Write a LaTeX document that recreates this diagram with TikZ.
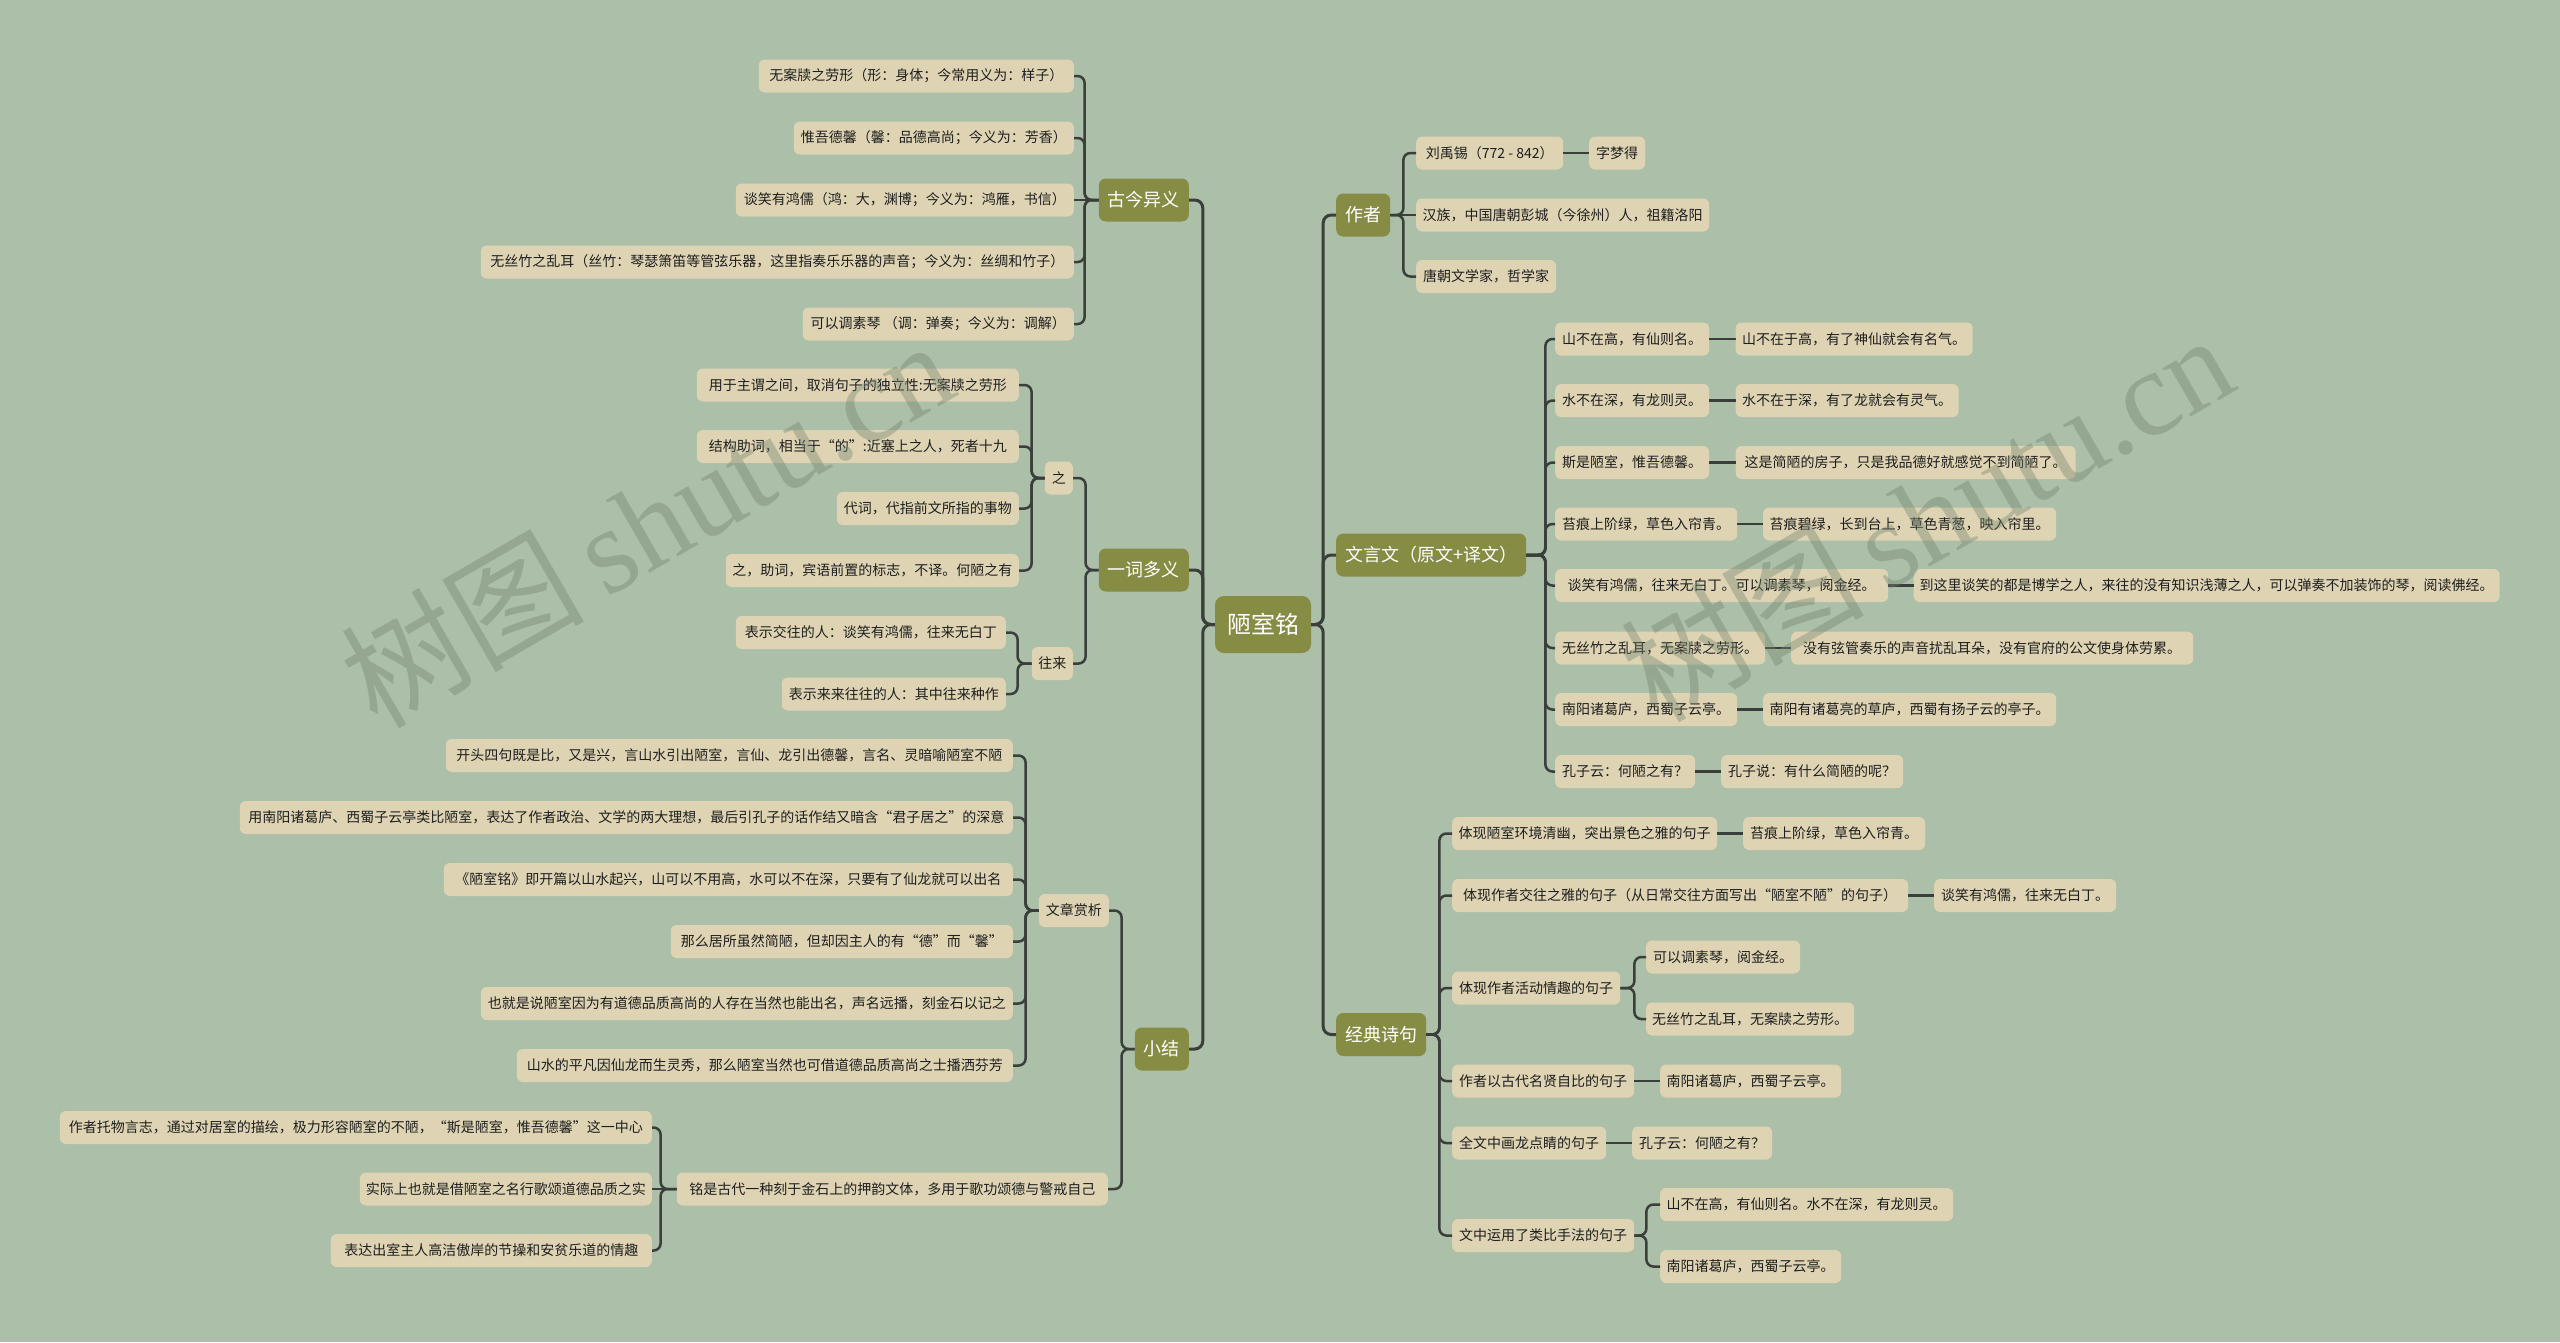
\documentclass[tikz,border=0pt]{standalone}
\usepackage{fontspec}
\setmainfont{Noto Sans CJK SC}
\newfontfamily\wmlatin{Liberation Serif}
\definecolor{bgc}{HTML}{ABBFA9}
\definecolor{leafc}{HTML}{DED4B4}
\definecolor{topc}{HTML}{878C45}
\definecolor{linec}{HTML}{3A3F3B}
\definecolor{txtc}{HTML}{1E1E1E}
\definecolor{wmc}{HTML}{74846F}
\tikzset{
 leaf/.style={fill=leafc, rounded corners=6pt, inner xsep=6pt, inner ysep=0pt, minimum height=33pt, text=txtc, font=\fontsize{14}{16}\selectfont},
 lw/.style={leaf, minimum width=#1},
 topic/.style={fill=topc, rounded corners=7pt, inner xsep=9pt, inner ysep=0pt, minimum height=43pt, text=white, font=\fontsize{18}{20}\selectfont},
 rootn/.style={fill=topc, rounded corners=9pt, inner xsep=12pt, inner ysep=0pt, minimum height=57pt, minimum width=96pt, text=white, font=\fontsize{24}{26}\selectfont},
 link/.style={draw=linec, line width=2.5pt, rounded corners=7pt},
 rlink/.style={draw=linec, line width=3pt, rounded corners=8pt},
 wm/.style={text=wmc, opacity=0.4, rotate=30, inner sep=0pt}
}
\begin{document}
\begin{tikzpicture}[x=1pt,y=-1pt]
\fill[bgc] (0,0) rectangle (2560,1342);
\useasboundingbox (0,0) rectangle (2560,1342);

% root
\node[rootn] (root) at (1263,624.5) {陋室铭};

% left topics
\node[topic, anchor=east] (gj) at (1189,200) {古今异义};
\node[topic, anchor=east] (yc) at (1189,570) {一词多义};
\node[topic, anchor=east] (xj) at (1189,1049) {小结};

% right topics
\node[topic, anchor=west] (zz) at (1336,215) {作者};
\node[topic, anchor=west] (wy) at (1336,555) {文言文（原文+译文）};
\node[topic, anchor=west] (jd) at (1336,1034.5) {经典诗句};

% 古今异义
\node[lw=315pt, anchor=east] (g1) at (1074,76) {无案牍之劳形（形：身体；今常用义为：样子）};
\node[lw=280pt, anchor=east] (g2) at (1074,138) {惟吾德馨（馨：品德高尚；今义为：芳香）};
\node[lw=338pt, anchor=east] (g3) at (1074,200) {谈笑有鸿儒（鸿：大，渊博；今义为：鸿雁，书信）};
\node[lw=593pt, anchor=east] (g4) at (1074,262) {无丝竹之乱耳（丝竹：琴瑟箫笛等管弦乐器，这里指奏乐乐器的声音；今义为：丝绸和竹子）};
\node[lw=271pt, anchor=east] (g5) at (1074,324) {可以调素琴 （调：弹奏；今义为：调解）};

% 一词多义
\node[lw=28pt, anchor=east] (zhi) at (1073,478) {之};
\node[lw=41pt, anchor=east] (wl) at (1073,663.5) {往来};
\node[lw=322pt, anchor=east] (z1) at (1019,385) {用于主谓之间，取消句子的独立性:无案牍之劳形};
\node[lw=322pt, anchor=east] (z2) at (1019,446.5) {结构助词，相当于“的”:近塞上之人，死者十九};
\node[lw=182pt, anchor=east] (z3) at (1019,508.5) {代词，代指前文所指的事物};
\node[lw=293pt, anchor=east] (z4) at (1019,570.5) {之，助词，宾语前置的标志，不译。何陋之有};
\node[lw=270pt, anchor=east] (w1) at (1006,632.5) {表示交往的人：谈笑有鸿儒，往来无白丁};
\node[lw=224pt, anchor=east] (w2) at (1006,694) {表示来来往往的人：其中往来种作};

% 小结
\node[lw=70pt, anchor=east] (wz) at (1109,910.5) {文章赏析};
\node[lw=431pt, anchor=east] (ming) at (1108,1189) {铭是古代一种刻于金石上的押韵文体，多用于歌功颂德与警戒自己};
\node[lw=567pt, anchor=east] (a1) at (1013,755.5) {开头四句既是比，又是兴，言山水引出陋室，言仙、龙引出德馨，言名、灵暗喻陋室不陋};
\node[lw=773pt, anchor=east] (a2) at (1013,817.5) {用南阳诸葛庐、西蜀子云亭类比陋室，表达了作者政治、文学的两大理想，最后引孔子的话作结又暗含“君子居之”的深意};
\node[lw=569pt, anchor=east] (a3) at (1013,879.5) {《陋室铭》即开篇以山水起兴，山可以不用高，水可以不在深，只要有了仙龙就可以出名};
\node[lw=342pt, anchor=east] (a4) at (1013,941.5) {那么居所虽然简陋，但却因主人的有“德”而“馨”};
\node[lw=532pt, anchor=east] (a5) at (1013,1003.5) {也就是说陋室因为有道德品质高尚的人存在当然也能出名，声名远播，刻金石以记之};
\node[lw=496pt, anchor=east] (a6) at (1013,1065.5) {山水的平凡因仙龙而生灵秀，那么陋室当然也可借道德品质高尚之士播洒芬芳};
\node[lw=592pt, anchor=east] (m1) at (652,1127.5) {作者托物言志，通过对居室的描绘，极力形容陋室的不陋，“斯是陋室，惟吾德馨”这一中心};
\node[lw=291pt, anchor=east] (m2) at (652,1189) {实际上也就是借陋室之名行歌颂道德品质之实};
\node[lw=321pt, anchor=east] (m3) at (652,1250.5) {表达出室主人高洁傲岸的节操和安贫乐道的情趣};

% 作者
\node[lw=147pt, anchor=west] (r1) at (1416,153) {刘禹锡（772 - 842）};
\node[lw=56pt, anchor=west] (r1b) at (1589,153) {字梦得};
\node[lw=293pt, anchor=west] (r2) at (1416,215) {汉族，中国唐朝彭城（今徐州）人，祖籍洛阳};
\node[lw=140pt, anchor=west] (r3) at (1416,276.5) {唐朝文学家，哲学家};

% 文言文
\node[lw=154pt, anchor=west] (y1) at (1555,339) {山不在高，有仙则名。};
\node[lw=237pt, anchor=west] (t1) at (1735.5,339) {山不在于高，有了神仙就会有名气。};
\node[lw=154pt, anchor=west] (y2) at (1555,400.5) {水不在深，有龙则灵。};
\node[lw=223pt, anchor=west] (t2) at (1735.5,400.5) {水不在于深，有了龙就会有灵气。};
\node[lw=154pt, anchor=west] (y3) at (1555,462.5) {斯是陋室，惟吾德馨。};
\node[lw=340pt, anchor=west] (t3) at (1735.5,462.5) {这是简陋的房子，只是我品德好就感觉不到简陋了。};
\node[lw=182pt, anchor=west] (y4) at (1555,524) {苔痕上阶绿，草色入帘青。};
\node[lw=293pt, anchor=west] (t4) at (1763,524) {苔痕碧绿，长到台上，草色青葱，映入帘里。};
\node[lw=333pt, anchor=west] (y5) at (1555,585.5) {谈笑有鸿儒，往来无白丁。可以调素琴，阅金经。};
\node[lw=585pt, anchor=west] (t5) at (1913.5,585.5) {到这里谈笑的都是博学之人，来往的没有知识浅薄之人，可以弹奏不加装饰的琴，阅读佛经。};
\node[lw=210pt, anchor=west] (y6) at (1555,648) {无丝竹之乱耳，无案牍之劳形。};
\node[lw=402pt, anchor=west] (t6) at (1791,648) {没有弦管奏乐的声音扰乱耳朵，没有官府的公文使身体劳累。};
\node[lw=182pt, anchor=west] (y7) at (1555,709.5) {南阳诸葛庐，西蜀子云亭。};
\node[lw=293pt, anchor=west] (t7) at (1763,709.5) {南阳有诸葛亮的草庐，西蜀有扬子云的亭子。};
\node[lw=140pt, anchor=west] (y8) at (1555,771.5) {孔子云：何陋之有？};
\node[lw=182pt, anchor=west] (t8) at (1721,771.5) {孔子说：有什么简陋的呢？};

% 经典诗句
\node[lw=265pt, anchor=west] (j1) at (1452,833.5) {体现陋室环境清幽，突出景色之雅的句子};
\node[lw=182pt, anchor=west] (j1b) at (1743,833.5) {苔痕上阶绿，草色入帘青。};
\node[lw=456pt, anchor=west] (j2) at (1452,895.5) {体现作者交往之雅的句子（从日常交往方面写出“陋室不陋”的句子）};
\node[lw=182pt, anchor=west] (j2b) at (1934,895.5) {谈笑有鸿儒，往来无白丁。};
\node[lw=168pt, anchor=west] (j3) at (1452,988) {体现作者活动情趣的句子};
\node[lw=154pt, anchor=west] (j3a) at (1646,957) {可以调素琴，阅金经。};
\node[lw=208pt, anchor=west] (j3b) at (1646,1019) {无丝竹之乱耳，无案牍之劳形。};
\node[lw=182pt, anchor=west] (j4) at (1452,1081) {作者以古代名贤自比的句子};
\node[lw=181pt, anchor=west] (j4b) at (1660,1081) {南阳诸葛庐，西蜀子云亭。};
\node[lw=154pt, anchor=west] (j5) at (1452,1143) {全文中画龙点睛的句子};
\node[lw=140pt, anchor=west] (j5b) at (1632,1143) {孔子云：何陋之有？};
\node[lw=182pt, anchor=west] (j6) at (1452,1235.5) {文中运用了类比手法的句子};
\node[lw=293pt, anchor=west] (j6a) at (1660,1204.5) {山不在高，有仙则名。水不在深，有龙则灵。};
\node[lw=181pt, anchor=west] (j6b) at (1660,1266.5) {南阳诸葛庐，西蜀子云亭。};

% links: root
\foreach \c in {gj,yc,xj} \draw[rlink] (root.west) -- ++(-12,0) |- (\c.east);
\foreach \c in {zz,wy,jd} \draw[rlink] (root.east) -- ++(12,0) |- (\c.west);

% left links
\foreach \c in {g1,g2,g4,g5} \draw[link] (gj.west) -- ++(-14,0) |- (\c.east);
\draw[link] (gj.west) -- (g3.east);
\foreach \c in {zhi,wl} \draw[link] (yc.west) -- ++(-13,0) |- (\c.east);
\foreach \c in {z1,z2,z3,z4} \draw[link] (zhi.west) -- ++(-13,0) |- (\c.east);
\foreach \c in {w1,w2} \draw[link] (wl.west) -- ++(-14,0) |- (\c.east);
\foreach \c in {wz,ming} \draw[link] (xj.west) -- ++(-13,0) |- (\c.east);
\foreach \c in {a1,a2,a3,a4,a5,a6} \draw[link] (wz.west) -- ++(-13,0) |- (\c.east);
\foreach \c in {m1,m3} \draw[link] (ming.west) -- ++(-16,0) |- (\c.east);
\draw[link] (ming.west) -- (m2.east);

% right links
\foreach \c in {r1,r3} \draw[link] (zz.east) -- ++(13,0) |- (\c.west);
\draw[link] (zz.east) -- (r2.west);
\draw[link] (r1.east) -- (r1b.west);
\foreach \c in {y1,y2,y3,y4,y5,y6,y7,y8} \draw[link] (wy.east) -- ++(19,0) |- (\c.west);
\foreach \a/\b in {y1/t1,y2/t2,y3/t3,y4/t4,y5/t5,y6/t6,y7/t7,y8/t8} \draw[link] (\a.east) -- (\b.west);
\foreach \c in {j1,j2,j3,j4,j5,j6} \draw[link] (jd.east) -- ++(13,0) |- (\c.west);
\foreach \a/\b in {j1/j1b,j2/j2b,j4/j4b,j5/j5b} \draw[link] (\a.east) -- (\b.west);
\foreach \c in {j3a,j3b} \draw[link] (j3.east) -- ++(14,0) |- (\c.west);
\foreach \c in {j6a,j6b} \draw[link] (j6.east) -- ++(12,0) |- (\c.west);

% watermarks
\node[wm] (wm1) at (646,522) {\fontsize{122}{128}\selectfont 树图\,{\wmlatin shutu.cn}};
\node[wm] (wm2) at (1926,516) {\fontsize{122}{128}\selectfont 树图\,{\wmlatin shutu.cn}};
\end{tikzpicture}
\end{document}
